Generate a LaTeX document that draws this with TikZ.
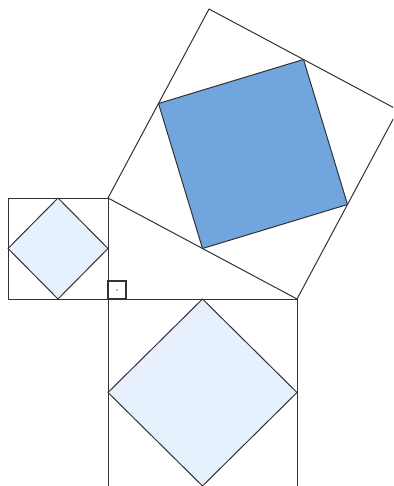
\documentclass[tikz,border=0pt]{standalone}
\usepackage{xcolor}
\usepackage{tikz}
\usetikzlibrary{calc}
\definecolor{pyLine}{RGB}{50,50,50}
\definecolor{pyDeep}{RGB}{112,165,222}
\definecolor{pyPale}{RGB}{230,241,253}

\begin{document}
\begin{tikzpicture}[
  x=1pt, y=-1pt,
  side/.style={draw=pyLine, line width=1pt, line join=round},
  paleface/.style={side, fill=pyPale},
  deepface/.style={side, fill=pyDeep},
  anglemark/.style={draw=pyLine, line width=1.1pt}
]
\useasboundingbox (0,0) rectangle (393,486);
\clip (0,0) rectangle (393,486);

% right triangle
\coordinate (C) at (108,299);
\coordinate (A) at (108,198);
\coordinate (B) at (297,299);

% square on the short leg
\coordinate (A1) at ($(A)+(-100,0)$);
\coordinate (C1) at ($(C)+(-100,0)$);
% square on the long leg
\coordinate (C2) at ($(C)+(0,187)$);
\coordinate (B2) at ($(B)+(0,187)$);
% square on the hypotenuse
\coordinate (B3) at ($(B)+(101,-189)$);
\coordinate (A3) at ($(A)+(101,-189)$);

% inner diamonds
\draw[paleface] ($(A1)!0.5!(A)$) -- ($(A)!0.5!(C)$)
  -- ($(C)!0.5!(C1)$) -- ($(C1)!0.5!(A1)$) -- cycle;
\draw[paleface] ($(C)!0.5!(B)$) -- ($(B)!0.5!(B2)$)
  -- ($(B2)!0.5!(C2)$) -- ($(C2)!0.5!(C)$) -- cycle;
\draw[deepface] ($(A)!0.5!(B)$) -- ($(B)!0.5!(B3)$)
  -- ($(B3)!0.5!(A3)$) -- ($(A3)!0.5!(A)$) -- cycle;

% outer squares
\draw[side] (A1) -- (A) -- (C) -- (C1) -- cycle;
\draw[side] (C) -- (B) -- (B2) -- (C2) -- cycle;
\draw[side] (A) -- (B) -- (B3) -- (A3) -- cycle;

% right angle
\draw[anglemark] (C) rectangle ($(C)+(18,-18)$);
\fill[pyLine!60] ($(C)+(9,-9)$) circle (0.8);

\end{tikzpicture}
\end{document}
